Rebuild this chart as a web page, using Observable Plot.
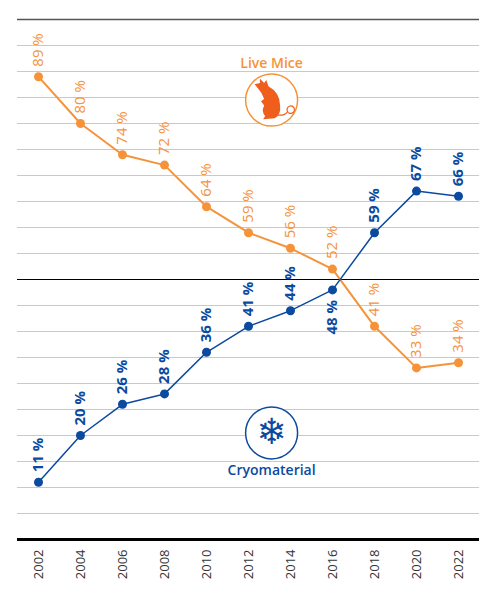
<!DOCTYPE html>
<html>
<head>
<meta charset="utf-8">
<script src="https://cdn.jsdelivr.net/npm/d3@7"></script>
<script src="https://cdn.jsdelivr.net/npm/@observablehq/plot@0.6"></script>
<style>
  body { margin: 0; background: #fff; }
  #chart svg { display: block; font-family: "Open Sans", sans-serif; }
</style>
</head>
<body>
<div id="chart"></div>
<script>
const years = [2002, 2004, 2006, 2008, 2010, 2012, 2014, 2016, 2018, 2020, 2022];
const liveMice = [89, 80, 74, 72, 64, 59, 56, 52, 41, 33, 34];
const cryomaterial = [11, 20, 26, 28, 36, 41, 44, 48, 59, 67, 66];
const gridTicks = [5, 10, 15, 20, 25, 30, 35, 40, 45, 55, 60, 65, 70, 75, 80, 85, 90, 95];
// labels that sit under their point instead of above it
const labelsBelow = [{series: "Cryomaterial", year: 2016}];

const orange = "#f5933a";
const blue = "#0b4a9e";

const mice = years.map((year, i) => ({year, value: liveMice[i], series: "Live Mice"}));
const cryo = years.map((year, i) => ({year, value: cryomaterial[i], series: "Cryomaterial"}));
const isBelow = d => labelsBelow.some(b => b.series === d.series && b.year === d.year);

// sitting mouse silhouette, drawn around the symbol centre
const mouseBody = {
  draw(ctx, size) {
    const k = Math.sqrt(size / Math.PI) / 16;
    const p = (x, y) => [x * k, y * k];
    ctx.moveTo(...p(-16, -15));
    ctx.lineTo(...p(-11, -16));
    ctx.lineTo(...p(-11, -20));
    ctx.lineTo(...p(-7, -16));
    ctx.lineTo(...p(-5, -19));
    ctx.lineTo(...p(-3, -13));
    ctx.quadraticCurveTo(...p(8, -7), ...p(8, 5));
    ctx.quadraticCurveTo(...p(9, 14), ...p(3, 17));
    ctx.lineTo(...p(-8, 18));
    ctx.lineTo(...p(-6, 15));
    ctx.quadraticCurveTo(...p(-10, 11), ...p(-7, 5));
    ctx.lineTo(...p(-10, 1));
    ctx.lineTo(...p(-7, -1));
    ctx.quadraticCurveTo(...p(-9, -7), ...p(-12, -10));
    ctx.closePath();
  }
};
const mouseTail = {
  draw(ctx, size) {
    const k = Math.sqrt(size / Math.PI) / 16;
    ctx.moveTo(5 * k, 14 * k);
    ctx.quadraticCurveTo(12 * k, 15 * k, 15 * k, 11 * k);
    ctx.arc(18 * k, 9 * k, 3.5 * k, Math.PI * 0.8, Math.PI * 2.7);
  }
};

const iconLive = [{x: 2013.1, y: 84.5}];
const iconCryo = [{x: 2013.1, y: 20.5}];

const labelOpts = (color, weight, below) => ({
  x: "year", y: "value", text: d => `${d.value} %`,
  rotate: -90,
  textAnchor: below ? "end" : "start",
  dy: below ? 10 : -10,
  fill: color,
  fontSize: 15,
  fontWeight: weight
});

const plot = Plot.plot({
  width: 500,
  height: 613,
  marginTop: 19,
  marginBottom: 74,
  marginLeft: 17,
  marginRight: 21,
  style: {fontFamily: "Open Sans, sans-serif"},
  x: {domain: [2001, 2023], axis: null},
  y: {domain: [0, 100], axis: null},
  marks: [
    Plot.ruleY(gridTicks, {stroke: "#c9c9c9", strokeWidth: 1}),
    Plot.ruleY([100], {stroke: "#555", strokeWidth: 1.5}),
    Plot.ruleY([50], {stroke: "#000", strokeWidth: 1.2}),
    Plot.ruleY([0], {stroke: "#000", strokeWidth: 3}),
    Plot.axisX(years, {
      tickSize: 0,
      tickPadding: 10,
      tickRotate: -90,
      tickFormat: d => String(d),
      fontSize: 13,
      fill: "#333",
      label: null
    }),
    // icons and series names
    Plot.dot(iconLive, {x: "x", y: "y", r: 26, fill: "#fff", stroke: orange, strokeWidth: 1.5}),
    Plot.dot(iconLive, {x: "x", y: "y", r: 17, symbol: mouseBody, fill: "#f05e1c", stroke: "none"}),
    Plot.dot(iconLive, {x: "x", y: "y", r: 17, symbol: mouseTail, fill: "none", stroke: "#f05e1c", strokeWidth: 1.2}),
    Plot.text(["Live Mice"], {x: 2013.1, y: 91.6, text: d => d, fill: orange, fontSize: 14, fontWeight: 600}),
    Plot.dot(iconCryo, {x: "x", y: "y", r: 26, fill: "#fff", stroke: blue, strokeWidth: 1.5}),
    Plot.text(["\u2744"], {x: 2013.1, y: 20.5, text: d => d, fill: blue, fontSize: 36, fontFamily: "DejaVu Sans"}),
    Plot.text(["Cryomaterial"], {x: 2013.1, y: 13.2, text: d => d, fill: blue, fontSize: 14, fontWeight: 600}),
    // series
    Plot.lineY(mice, {x: "year", y: "value", stroke: orange, strokeWidth: 2}),
    Plot.lineY(cryo, {x: "year", y: "value", stroke: blue, strokeWidth: 1.5}),
    Plot.dot(mice, {x: "year", y: "value", r: 4.5, fill: orange}),
    Plot.dot(cryo, {x: "year", y: "value", r: 4.5, fill: blue}),
    Plot.text(mice.filter(d => !isBelow(d)), labelOpts(orange, 500, false)),
    Plot.text(cryo.filter(d => !isBelow(d)), labelOpts(blue, 700, false)),
    Plot.text(cryo.filter(isBelow), labelOpts(blue, 700, true))
  ]
});

document.querySelector("#chart").append(plot);
</script>
</body>
</html>
